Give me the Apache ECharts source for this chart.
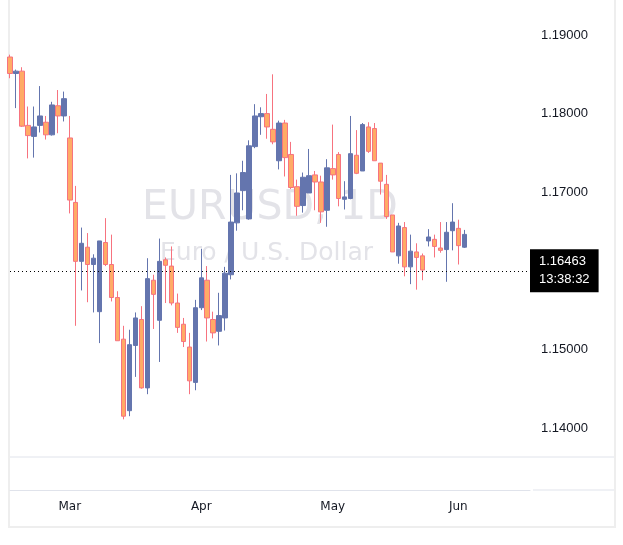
<!DOCTYPE html>
<html>
<head>
<meta charset="utf-8">
<script src="https://cdn.jsdelivr.net/npm/echarts@6/dist/echarts.min.js"></script>
<style>
  html, body { margin: 0; padding: 0; background: #fff; }
  #chart { width: 623px; height: 545px; }
</style>
</head>
<body>
<div id="chart"></div>
<script>
// EUR/USD daily candles, 16 Feb - 2 Jun
const startDate = '2026-02-16';
const totalSlots = 88; // trading days incl. empty space on the right

const openPrices = [
  1.1872, 1.1851, 1.1854, 1.1785, 1.1771, 1.1785, 1.1789, 1.1773, 1.1810, 1.1797,
  1.1769, 1.1687, 1.1612, 1.1630, 1.1608, 1.1548, 1.1636, 1.1608, 1.1566, 1.1513,
  1.1422, 1.1505, 1.1538, 1.1451, 1.1588, 1.1537, 1.1614, 1.1606, 1.1559, 1.1532,
  1.1503, 1.1458, 1.1553, 1.1588, 1.1538, 1.1523, 1.1540, 1.1595, 1.1661, 1.1702,
  1.1666, 1.1758, 1.1796, 1.1800, 1.1780, 1.1740, 1.1788, 1.1748, 1.1707, 1.1683,
  1.1699, 1.1722, 1.1713, 1.1677, 1.1730, 1.1748, 1.1691, 1.1692, 1.1747, 1.1727,
  1.1783, 1.1781, 1.1737, 1.1710, 1.1671, 1.1619, 1.1655, 1.1605, 1.1624, 1.1619,
  1.1638, 1.1640, 1.1629, 1.1627, 1.1651, 1.1654, 1.1630
];
const closePrices = [
  1.1851, 1.1854, 1.1784, 1.1772, 1.1783, 1.1797, 1.1773, 1.1811, 1.1797, 1.1819,
  1.1690, 1.1612, 1.1635, 1.1608, 1.1616, 1.1638, 1.1608, 1.1566, 1.1511, 1.1415,
  1.1506, 1.1540, 1.1451, 1.1590, 1.1570, 1.1612, 1.1607, 1.1559, 1.1528, 1.1510,
  1.1460, 1.1553, 1.1591, 1.1540, 1.1521, 1.1543, 1.1597, 1.1662, 1.1699, 1.1725,
  1.1759, 1.1797, 1.1800, 1.1783, 1.1764, 1.1788, 1.1744, 1.1706, 1.1682, 1.1719,
  1.1721, 1.1713, 1.1675, 1.1731, 1.1722, 1.1692, 1.1694, 1.1749, 1.1724, 1.1786,
  1.1752, 1.1740, 1.1714, 1.1669, 1.1624, 1.1657, 1.1605, 1.1625, 1.1617, 1.1601,
  1.1643, 1.1631, 1.1626, 1.1649, 1.1662, 1.1632, 1.16463
];
const lowPrices = [
  1.1845, 1.1807, 1.1783, 1.1743, 1.1744, 1.1776, 1.1767, 1.1772, 1.1775, 1.1790,
  1.1673, 1.1530, 1.1575, 1.1560, 1.1547, 1.1508, 1.1606, 1.1561, 1.1511, 1.1411,
  1.1415, 1.1465, 1.1450, 1.1443, 1.1526, 1.1484, 1.1559, 1.1556, 1.1521, 1.1503,
  1.1443, 1.1448, 1.1550, 1.1510, 1.1514, 1.1505, 1.1524, 1.1589, 1.1651, 1.1677,
  1.1665, 1.1756, 1.1773, 1.1768, 1.1761, 1.1729, 1.1720, 1.1704, 1.1670, 1.1674,
  1.1699, 1.1677, 1.1661, 1.1656, 1.1716, 1.1682, 1.1678, 1.1691, 1.1723, 1.1727,
  1.1750, 1.1740, 1.1697, 1.1666, 1.1624, 1.1609, 1.1593, 1.1583, 1.1576, 1.1588,
  1.1631, 1.1617, 1.1623, 1.1586, 1.1626, 1.1608, 1.1629
];
const highPrices = [
  1.1875, 1.1856, 1.1859, 1.1809, 1.1809, 1.1835, 1.1797, 1.1815, 1.1830, 1.1828,
  1.1797, 1.1708, 1.1655, 1.1648, 1.1621, 1.1638, 1.1667, 1.1646, 1.1574, 1.1530,
  1.1525, 1.1547, 1.1555, 1.1616, 1.1595, 1.1641, 1.1617, 1.1631, 1.1571, 1.1540,
  1.1521, 1.1563, 1.1628, 1.1606, 1.1548, 1.1572, 1.1605, 1.1722, 1.1724, 1.1740,
  1.1766, 1.1812, 1.1808, 1.1825, 1.1850, 1.1791, 1.1792, 1.1764, 1.1716, 1.1725,
  1.1755, 1.1727, 1.1721, 1.1742, 1.1786, 1.1751, 1.1714, 1.1797, 1.1779, 1.1788,
  1.1789, 1.1788, 1.1737, 1.1722, 1.1671, 1.1661, 1.1662, 1.1646, 1.1635, 1.1622,
  1.1653, 1.1646, 1.1662, 1.1662, 1.1686, 1.1665, 1.1652
];
const priceTicks = [1.14, 1.15, 1.16, 1.17, 1.18, 1.19];
const lastPrice = 1.16463;
const lastTime = '13:38:32';
const monthNames = ['Jan','Feb','Mar','Apr','May','Jun','Jul','Aug','Sep','Oct','Nov','Dec'];

// weekday categories
const dates = [];
let d = new Date(startDate + 'T12:00:00Z');
while (dates.length < totalSlots) {
  const wd = d.getUTCDay();
  if (wd !== 0 && wd !== 6) dates.push(d.toISOString().slice(0, 10));
  d.setUTCDate(d.getUTCDate() + 1);
}
const candles = openPrices.map((o, i) => [o, closePrices[i], lowPrices[i], highPrices[i]]);

const isMonthStart = (i) => i > 0 && dates[i].slice(5, 7) !== dates[i - 1].slice(5, 7);

const chart = echarts.init(document.getElementById('chart'));
chart.setOption({
  animation: false,
  backgroundColor: '#ffffff',
  grid: { left: 10, right: 93, top: 0, bottom: 55 },
  xAxis: {
    type: 'category',
    data: dates,
    boundaryGap: false,
    axisLine: { lineStyle: { color: '#e0e3eb' } },
    axisTick: { show: false },
    splitLine: { show: false },
    axisLabel: {
      interval: (i) => isMonthStart(i),
      formatter: (v) => monthNames[parseInt(v.slice(5, 7), 10) - 1],
      color: '#131722',
      fontFamily: 'DejaVu Sans',
      fontSize: 12,
      margin: 11
    }
  },
  yAxis: {
    type: 'value',
    position: 'right',
    min: 1.13211,
    max: 1.194453,
    axisLine: { show: false },
    axisTick: { show: false },
    splitLine: { show: false },
    axisLabel: {
      customValues: priceTicks,
      formatter: (v) => v.toFixed(5),
      color: '#131722',
      fontFamily: 'Liberation Sans',
      fontSize: 13,
      margin: 11
    }
  },
  graphic: [
    { type: 'text', z: -1, left: 142, top: 188,
      style: { text: 'EURUSD, 1D', fontSize: 41, fontFamily: 'DejaVu Sans', fill: '#e3e3e8' } },
    { type: 'text', z: -1, left: 160, top: 241,
      style: { text: 'Euro / U.S. Dollar', fontSize: 25, fontFamily: 'DejaVu Sans', fill: '#e3e3e8' } },
    { type: 'line', shape: { x1: 9, y1: 457, x2: 615, y2: 457 }, style: { stroke: '#e0e3eb', lineWidth: 1 } },
    { type: 'line', shape: { x1: 533, y1: 490, x2: 615, y2: 490 }, style: { stroke: '#e0e3eb', lineWidth: 1 } },
    { type: 'rect', shape: { x: 9, y: -2, width: 606, height: 529 },
      style: { fill: 'none', stroke: '#eeeeee', lineWidth: 2 } }
  ],
  series: [{
    type: 'candlestick',
    data: candles,
    barWidth: 5,
    clip: true,
    itemStyle: {
      color: '#6475ae',
      color0: '#ffab66',
      borderColor: '#6475ae',
      borderColor0: '#f7737f',
      borderWidth: 1
    }
  }, {
    // carrier for the last-price line
    type: 'line',
    data: [],
    markLine: {
      silent: true,
      symbol: 'none',
      lineStyle: { type: [1, 3], color: '#000000', width: 1 },
      label: {
        position: 'end',
        distance: 0,
        formatter: () => lastPrice.toFixed(5) + '\n' + lastTime,
        color: '#ffffff',
        backgroundColor: '#000000',
        fontFamily: 'Liberation Sans',
        fontSize: 13,
        lineHeight: 18,
        padding: [4, 9, 3, 9]
      },
      data: [{ yAxis: lastPrice }]
    }
  }]
});
</script>
</body>
</html>
